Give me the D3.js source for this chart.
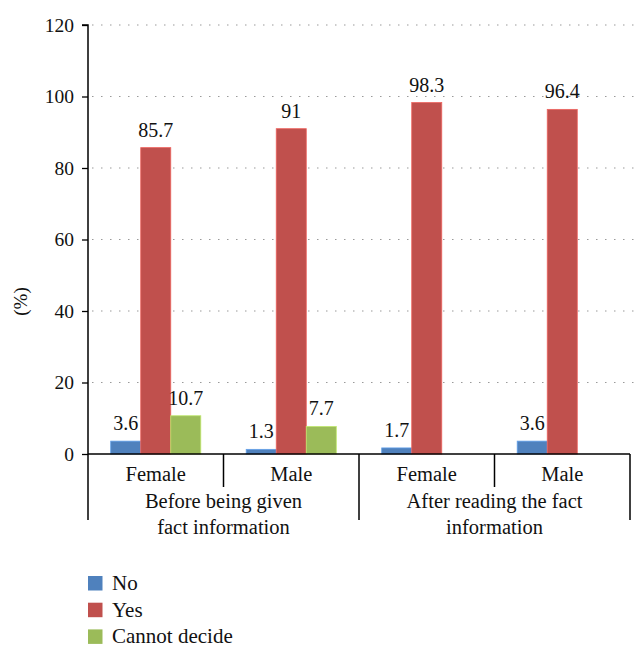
<!DOCTYPE html>
<html lang="en">
<head>
<meta charset="UTF-8">
<title>Opinion before and after fact information</title>
<script src="https://d3js.org/d3.v7.min.js"></script>
<style>
  body { margin: 0; background: #fff; }
  svg text { font-family: "Liberation Serif", "Times New Roman", serif; fill: #111; }
</style>
</head>
<body>
<svg id="chart" width="635" height="648"></svg>
<script>
// data
const groups = ['Before being given|fact information', 'After reading the fact|information'];
const sexes = ['Female', 'Male'];
const series = ['No', 'Yes', 'Cannot decide'];
const colors = ['#4F81BD', '#C0504D', '#9BBB59'];
const noVals = [3.6, 1.3, 1.7, 3.6];
const yesVals = [85.7, 91, 98.3, 96.4];
const cannotVals = [10.7, 7.7, null, null];
const yTicks = [0, 20, 40, 60, 80, 100, 120];

const svg = d3.select('#chart');
const margin = { top: 25, left: 88 };
const plotRight = 630;
const y0 = 454;

const cats = d3.range(4);
const x0 = d3.scaleBand().domain(cats).range([margin.left, plotRight]);
const inset = 22.7;
const x1 = d3.scaleBand().domain(series).range([inset, x0.bandwidth() - inset]);
const y = d3.scaleLinear().domain([0, 120]).range([y0, margin.top]);

// dotted gridlines
svg.append('g')
  .selectAll('line')
  .data(yTicks.filter(d => d > 0))
  .join('line')
  .attr('x1', margin.left + 4).attr('x2', 635)
  .attr('y1', d => y(d)).attr('y2', d => y(d))
  .attr('stroke', '#9a9a9a')
  .attr('stroke-width', 1.2)
  .attr('stroke-dasharray', '1.5,7.5');

// bars + value labels
const rows = cats.map(i => [noVals[i], yesVals[i], cannotVals[i]]);
const gBars = svg.append('g');
cats.forEach(i => {
  const g = gBars.append('g').attr('transform', `translate(${x0(i)},0)`);
  const d = series.map((s, k) => ({ s, k, v: rows[i][k] })).filter(e => e.v != null);
  g.selectAll('rect')
    .data(d)
    .join('rect')
    .attr('x', e => x1(e.s))
    .attr('width', x1.bandwidth())
    .attr('y', e => y(e.v))
    .attr('height', e => y0 - y(e.v))
    .attr('fill', e => colors[e.k])
    .attr('stroke', e => d3.color(colors[e.k]).brighter(0.6))
    .attr('stroke-width', 0.8);
  g.selectAll('text')
    .data(d)
    .join('text')
    .attr('x', e => x1(e.s) + x1.bandwidth() / 2)
    .attr('y', e => y(e.v) - 11)
    .attr('text-anchor', 'middle')
    .attr('font-size', 20)
    .text(e => e.v);
});

// y axis
const yAxis = svg.append('g')
  .attr('transform', `translate(${margin.left},0)`)
  .call(d3.axisLeft(y).tickValues(yTicks).tickSize(6).tickPadding(8));
yAxis.select('.domain').attr('stroke', '#000').attr('stroke-width', 1.5)
  .attr('d', `M-6,${y(120)}H0V${y0}`);
yAxis.selectAll('.tick line').attr('stroke', '#000').attr('stroke-width', 1.3);
yAxis.selectAll('.tick text').attr('font-size', 19.5);

svg.append('text')
  .attr('transform', `translate(27,${(y0 + margin.top) / 2 + 62}) rotate(-90)`)
  .attr('text-anchor', 'middle')
  .attr('font-size', 19)
  .text('(%)');

// x axis: baseline + dividers
const axisG = svg.append('g').attr('stroke', '#000').attr('stroke-width', 1.5);
axisG.append('line').attr('x1', margin.left).attr('x2', plotRight).attr('y1', y0).attr('y2', y0);
// outer group dividers
[margin.left, x0(2), plotRight].forEach(xv => {
  axisG.append('line').attr('x1', xv).attr('x2', xv).attr('y1', y0).attr('y2', 520);
});
// inner sex dividers
[x0(1), x0(3)].forEach(xv => {
  axisG.append('line').attr('x1', xv).attr('x2', xv).attr('y1', y0).attr('y2', 487);
});

// sex labels
svg.append('g')
  .selectAll('text')
  .data(cats)
  .join('text')
  .attr('x', i => x0(i) + x0.bandwidth() / 2)
  .attr('y', 481)
  .attr('text-anchor', 'middle')
  .attr('font-size', 20.5)
  .text(i => sexes[i % 2]);

// group labels
groups.forEach((gname, gi) => {
  const cx = (x0(gi * 2) + x0(gi * 2 + 1) + x0.bandwidth()) / 2;
  const t = svg.append('text').attr('text-anchor', 'middle').attr('font-size', 20.5);
  gname.split('|').forEach((line, li) => {
    t.append('tspan').attr('x', cx).attr('y', 508 + li * 26).text(line);
  });
});

// legend
const legend = svg.append('g').attr('transform', 'translate(88,576)');
series.forEach((s, k) => {
  const row = legend.append('g').attr('transform', `translate(0,${k * 26.7})`);
  row.append('rect').attr('width', 14.5).attr('height', 14.5).attr('fill', colors[k]);
  row.append('text').attr('x', 24).attr('y', 14).attr('font-size', 21).text(s);
});
</script>
</body>
</html>
